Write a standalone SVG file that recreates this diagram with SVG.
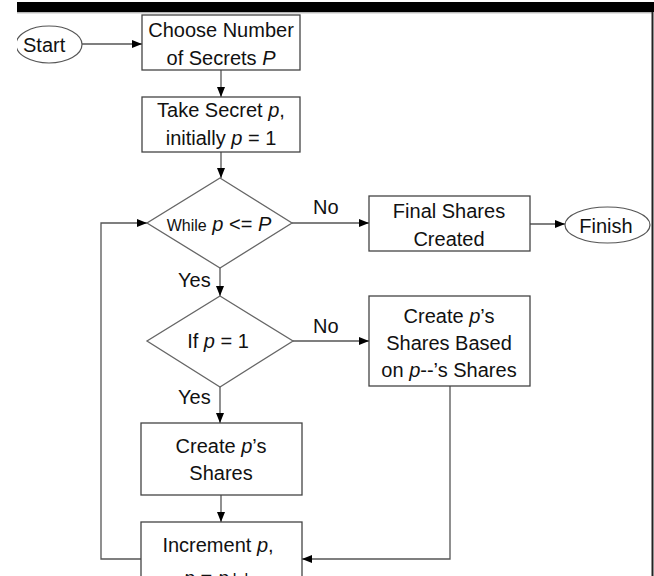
<svg xmlns="http://www.w3.org/2000/svg" width="654" height="576" viewBox="0 0 654 576">
<style>
  .box{fill:#fff;stroke:#444;stroke-width:1.3}
  .dia{fill:#fff;stroke:#666;stroke-width:1.3}
  .ell{fill:#fff;stroke:#555;stroke-width:1.2}
  .t{font-family:"Liberation Sans",Arial,sans-serif;font-size:20px;fill:#111;text-anchor:middle}
  .l{font-family:"Liberation Sans",Arial,sans-serif;font-size:20px;fill:#111}
  .c{fill:none;stroke:#555;stroke-width:1.3}
</style>
<defs>
  <marker id="ah" markerUnits="userSpaceOnUse" markerWidth="10" markerHeight="10" viewBox="0 0 10 10" refX="10" refY="5" orient="auto">
    <path d="M0,1 L10,5 L0,9 Z" fill="#000"/>
  </marker>
  <clipPath id="clipL"><rect x="17" y="0" width="637" height="576"/></clipPath>
</defs>
<rect x="0" y="0" width="654" height="576" fill="#fff"/>
<g id="frame">
  <rect x="17" y="2" width="637" height="10" fill="#000"/>
  <line x1="17" y1="12.8" x2="652" y2="12.8" stroke="#999" stroke-width="1"/>
  <line x1="652.5" y1="12" x2="652.5" y2="576" stroke="#222" stroke-width="2"/>
</g>
<g id="connectors">
  <line class="c" x1="82" y1="44" x2="142" y2="44" marker-end="url(#ah)"/>
  <line class="c" x1="221" y1="70" x2="221" y2="97" marker-end="url(#ah)"/>
  <line class="c" x1="221" y1="152" x2="221" y2="178" marker-end="url(#ah)"/>
  <line class="c" x1="292" y1="223" x2="369" y2="223" marker-end="url(#ah)"/>
  <line class="c" x1="530" y1="224" x2="565" y2="224" marker-end="url(#ah)"/>
  <line class="c" x1="220" y1="268" x2="220" y2="296" marker-end="url(#ah)"/>
  <line class="c" x1="293" y1="341" x2="369" y2="341" marker-end="url(#ah)"/>
  <line class="c" x1="220" y1="387" x2="220" y2="423" marker-end="url(#ah)"/>
  <line class="c" x1="221" y1="495" x2="221" y2="522" marker-end="url(#ah)"/>
  <polyline class="c" points="450,386 450,559 302,559" marker-end="url(#ah)"/>
  <polyline class="c" points="141,559 101,559 101,223 147,223" marker-end="url(#ah)"/>
  <text class="l" x="313" y="214">No</text>
  <text class="l" x="178" y="287">Yes</text>
  <text class="l" x="313" y="333">No</text>
  <text class="l" x="178" y="404">Yes</text>
</g>
<g id="start">
  <ellipse class="ell" cx="49" cy="44.5" rx="33" ry="18.5" clip-path="url(#clipL)"/>
  <text class="l" x="23" y="52">Start</text>
</g>
<g id="choose">
  <rect class="box" x="142" y="15" width="158" height="55"/>
  <text class="t" x="221" y="37">Choose Number</text>
  <text class="t" x="221" y="65">of Secrets <tspan font-style="italic">P</tspan></text>
</g>
<g id="take">
  <rect class="box" x="142" y="97" width="158" height="55"/>
  <text class="t" x="221" y="117">Take Secret <tspan font-style="italic">p</tspan>,</text>
  <text class="t" x="221" y="145">initially <tspan font-style="italic">p</tspan> = 1</text>
</g>
<g id="while">
  <polygon class="dia" points="220,178 292,223 220,268 147,223"/>
  <text class="t" x="219" y="231"><tspan font-size="16">While</tspan> <tspan font-style="italic">p</tspan> &lt;= <tspan font-style="italic">P</tspan></text>
</g>
<g id="final">
  <rect class="box" x="369" y="196" width="161" height="55"/>
  <text class="t" x="449" y="218">Final Shares</text>
  <text class="t" x="449" y="246">Created</text>
</g>
<g id="finish">
  <ellipse class="ell" cx="607.5" cy="225" rx="42.5" ry="18"/>
  <text class="t" x="606" y="233">Finish</text>
</g>
<g id="ifp">
  <polygon class="dia" points="220,296 293,341 220,387 147,341"/>
  <text class="t" x="218" y="348">If <tspan font-style="italic">p</tspan> = 1</text>
</g>
<g id="createbased">
  <rect class="box" x="369" y="296" width="161" height="90"/>
  <text class="t" x="449" y="323">Create <tspan font-style="italic">p</tspan>’s</text>
  <text class="t" x="449" y="350">Shares Based</text>
  <text class="t" x="449" y="377">on <tspan font-style="italic">p</tspan>--’s Shares</text>
</g>
<g id="create">
  <rect class="box" x="141" y="423" width="161" height="72"/>
  <text class="t" x="221" y="453">Create <tspan font-style="italic">p</tspan>’s</text>
  <text class="t" x="221" y="480">Shares</text>
</g>
<g id="increment">
  <rect class="box" x="141" y="522" width="161" height="70"/>
  <text class="t" x="218" y="552">Increment <tspan font-style="italic">p</tspan>,</text>
  <text class="t" x="218" y="585"><tspan font-style="italic">p</tspan> = <tspan font-style="italic">p</tspan>++</text>
</g>
</svg>
